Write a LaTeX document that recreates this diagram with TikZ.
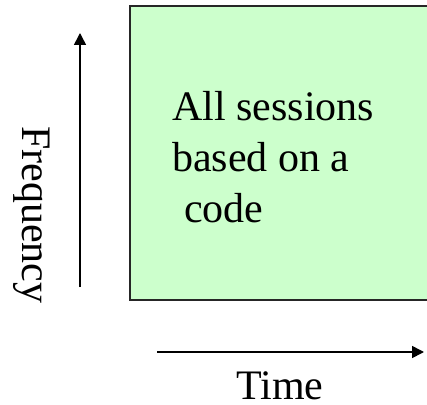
\documentclass[tikz,border=0pt]{standalone}
\usepackage{fontspec}
\setmainfont{Liberation Serif}
\usetikzlibrary{arrows.meta}
\definecolor{boxgreen}{HTML}{CCFFCC}
\tikzset{
  axisarrow/.style={line width=1.6pt,-{Triangle[length=12pt,width=12pt]}},
  lbl/.style={font=\fontsize{42}{50}\selectfont,inner sep=0pt},
}
\begin{document}
\begin{tikzpicture}[x=1pt,y=1pt]
\useasboundingbox (0,0) rectangle (427,404);
\clip (0,0) rectangle (427,404);
% shaded region (runs past the right edge)
\draw[fill=boxgreen,draw=black!85,line width=1.5pt] (130,104) rectangle (445,398);
% region text
\node[lbl,anchor=base west] (l1) at (172,283) {All sessions};
\node[lbl,anchor=base west] (l2) at (172,232) {based on a};
\node[lbl,anchor=base west] (l3) at (184,181) {code};
% frequency axis
\coordinate (f0) at (80,117);
\coordinate (f1) at (80,371);
\draw[axisarrow] (f0) -- (f1);
\node[lbl,rotate=-90,anchor=base] (freq) at (22,189) {Frequency};
% time axis
\coordinate (t0) at (157,52);
\coordinate (t1) at (424,52);
\draw[axisarrow] (t0) -- (t1);
\node[lbl,anchor=base] (time) at (280,5) {Time};
\end{tikzpicture}
\end{document}
